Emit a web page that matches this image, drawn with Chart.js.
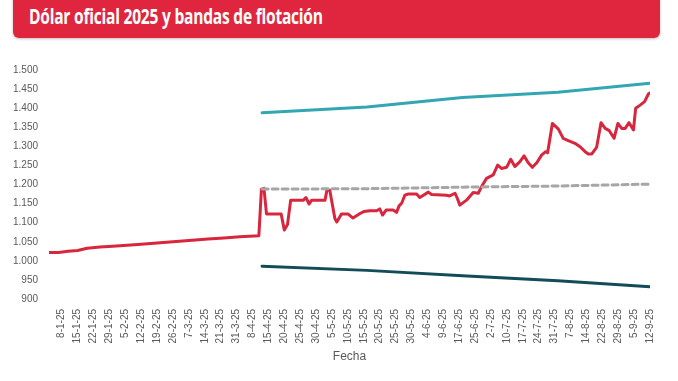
<!DOCTYPE html>
<html>
<head>
<meta charset="utf-8">
<script src="https://cdn.jsdelivr.net/npm/chart.js@4.4.1/dist/chart.umd.min.js"></script>
<style>
  html, body { margin: 0; padding: 0; background: #fff; }
  body { width: 678px; height: 381px; position: relative; overflow: hidden; }
  #banner {
    position: absolute; left: 13px; top: -8px; width: 647px; height: 46px;
    background: #e0263e; border-radius: 6px;
    box-shadow: 0 1px 3px rgba(0,0,0,0.25);
  }
  #banner span {
    position: absolute; left: 16px; top: 10px; white-space: nowrap;
    color: #fff; font-family: "Open Sans", "DejaVu Sans Condensed", sans-serif;
    font-weight: bold; font-size: 21px; letter-spacing: -0.3px;
    transform: scaleX(0.74); transform-origin: left center;
  }
  #wrap { position: absolute; left: 0; top: 0; width: 678px; height: 381px; }
</style>
</head>
<body>
<div id="banner"><span>Dólar oficial 2025 y bandas de flotación</span></div>
<div id="wrap"><canvas id="chart"></canvas></div>
<script>
// ========================
// DATA
// ========================
const tickLabels = ['8-1-25','15-1-25','22-1-25','29-1-25','5-2-25','12-2-25','19-2-25','26-2-25',
  '7-3-25','14-3-25','21-3-25','31-3-25','8-4-25','15-4-25','20-4-25','25-4-25','30-4-25',
  '5-5-25','10-5-25','15-5-25','20-5-25','25-5-25','30-5-25','4-6-25','9-6-25','17-6-25',
  '25-6-25','2-7-25','10-7-25','17-7-25','24-7-25','31-7-25','7-8-25','14-8-25','22-8-25',
  '29-8-25','5-9-25','12-9-25'];

// position of each reading, counted in trading days from 2-1-25
const officialIdx = [0,3,6,9,12,16,20,28,34,39,44,50,55,60,66,66.8,67.6,68.4,73,74,75,76,80,80.8,81.8,
  82.6,86.8,87.4,88.3,89.9,90.5,92,94,95.6,97.8,99,100.9,103,104,104.9,106,108.2,109.3,110.1,110.9,
  111.9,113,115.6,116.6,119.3,120.3,125,126,127.7,128.4,129.2,131.3,133.4,135,136,137.6,139.7,141.1,
  142.3,143.9,145.2,146.5,148.1,149.4,150.7,152,153.4,154.9,156.2,156.8,158.3,160.2,161.7,163.3,
  165.4,167,168.6,169.6,170.7,172.2,173.6,174.9,176.2,177.7,178.9,180.1,181.2,182.4,183.8,184.5,
  185.9,187.3,188.5,189];
const official = [1022,1022,1025,1027,1033,1036,1038,1043,1047,1050,1053,1057,1060,1063,1066,1188,1190,1123,
  1123,1081,1095,1159,1159,1166,1149,1159,1159,1185,1185,1111,1102,1123,1123,1112,1124,1129,1131,1131,
  1136,1120,1133,1133,1127,1144,1151,1172,1175,1175,1166,1180,1174,1172,1170,1177,1164,1146,1159,1179,
  1177,1194,1216,1225,1251,1242,1245,1266,1247,1260,1275,1257,1245,1257,1277,1286,1283,1360,1345,1321,
  1315,1308,1299,1286,1280,1280,1297,1362,1347,1341,1321,1360,1347,1347,1362,1343,1400,1408,1417,1437,1440];

const bandIdx   = [67, 100, 130, 160, 189];
const upperBand = [1388, 1403, 1428, 1442, 1465];
const midBand   = [1188, 1189, 1193, 1196, 1201];
const lowerBand = [986, 975, 961, 948, 932];

const pairs = (xs, ys) => xs.map((x, i) => ({ x: x, y: ys[i] }));
const tickPos = tickLabels.map((_, i) => 4 + i * 5);

const fmt = v => String(v).replace(/\B(?=(\d{3})+(?!\d))/g, '.');
const axisFont = { family: 'Liberation Sans, Arial, sans-serif', size: 10 };

new Chart(document.getElementById('chart'), {
  type: 'line',
  data: {
    datasets: [
      { label: 'Banda superior', data: pairs(bandIdx, upperBand), borderColor: '#33a6b3', borderWidth: 3 },
      { label: 'Banda media', data: pairs(bandIdx, midBand), borderColor: '#a6a6a6', borderWidth: 3, borderDash: [6, 4] },
      { label: 'Banda inferior', data: pairs(bandIdx, lowerBand), borderColor: '#124c59', borderWidth: 3 },
      { label: 'Dólar oficial', data: pairs(officialIdx, official), borderColor: '#d7263d', borderWidth: 3 }
    ]
  },
  options: {
    responsive: true,
    maintainAspectRatio: false,
    animation: false,
    layout: { padding: { top: 70, right: 28, bottom: 13, left: 0 } },
    elements: { point: { radius: 0 }, line: { tension: 0, borderJoinStyle: 'round', borderCapStyle: 'round' } },
    plugins: { legend: { display: false }, tooltip: { enabled: false } },
    scales: {
      x: {
        type: 'linear', min: 0, max: 189,
        grid: { display: false, drawTicks: false },
        border: { display: false },
        afterBuildTicks: scale => { scale.ticks = tickPos.map(v => ({ value: v })); },
        afterFit: scale => { scale.height = 69; },
        ticks: {
          autoSkip: false, minRotation: 90, maxRotation: 90, padding: 10,
          color: '#595959', font: axisFont,
          callback: (v) => tickLabels[tickPos.indexOf(v)]
        },
        title: { display: true, text: 'Fecha', color: '#595959', font: { family: 'Liberation Sans, Arial, sans-serif', size: 12 } }
      },
      y: {
        min: 900, max: 1500,
        grid: { display: false, drawTicks: false },
        border: { display: false },
        afterFit: scale => { scale.width = 49; },
        ticks: { stepSize: 50, padding: 11, color: '#595959', font: axisFont, callback: v => fmt(v) }
      }
    }
  }
});
</script>
</body>
</html>
